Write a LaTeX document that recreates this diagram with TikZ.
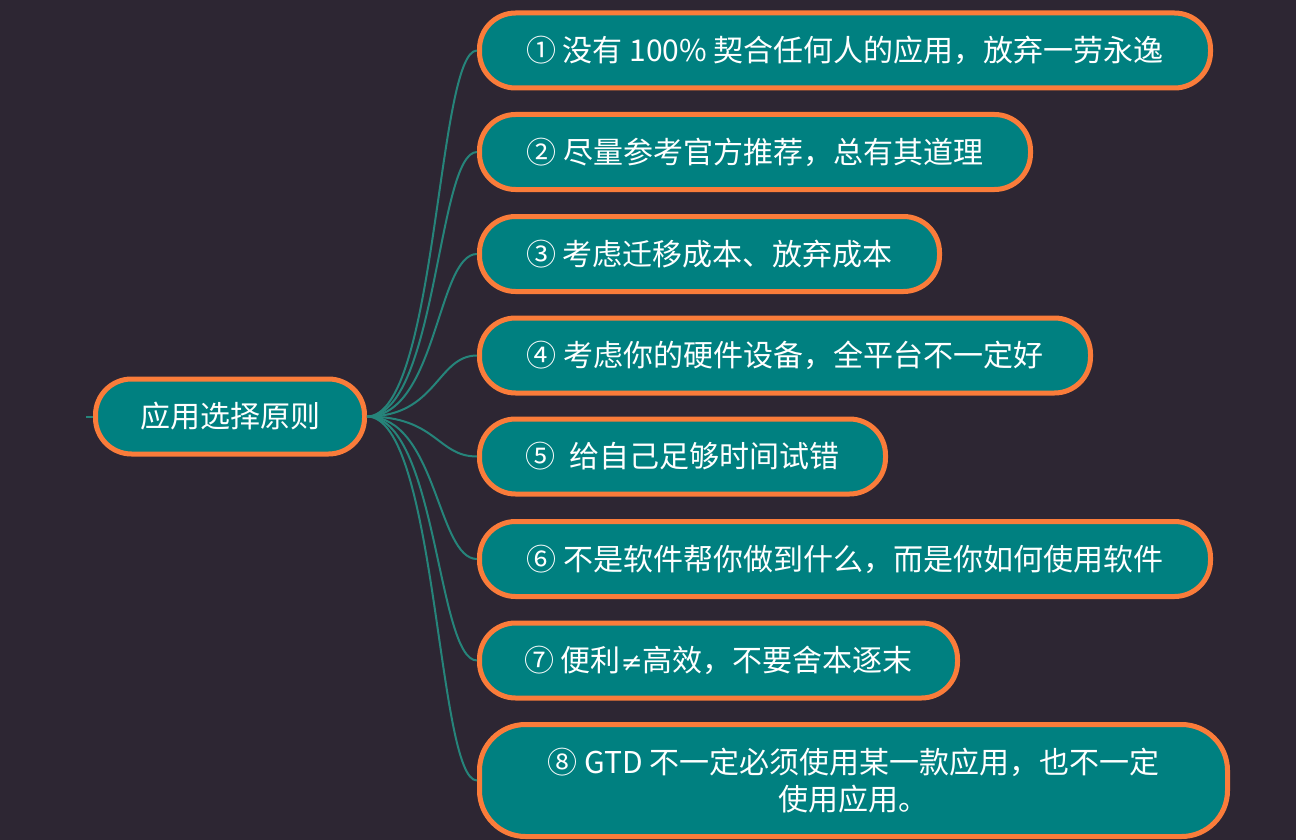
\documentclass[tikz,border=0pt]{standalone}
\usepackage{fontspec}
\newfontfamily\cjk{Noto Sans CJK SC}
\newfontfamily\lat{DejaVu Sans}
\definecolor{bgc}{RGB}{45,38,51}
\definecolor{tealF}{RGB}{0,128,128}
\definecolor{orangeB}{RGB}{250,124,58}
\definecolor{linkc}{RGB}{38,132,122}
\tikzset{
  mbox/.style={draw=orangeB, line width=5pt, fill=tealF, rounded corners=36pt,
    text=white, minimum height=75pt, inner sep=0pt, align=center,
    font=\cjk\fontsize{30}{37}\selectfont},
  link/.style={draw=linkc, line width=2pt},
}
\begin{document}
\begin{tikzpicture}[x=1pt,y=-1pt]
\fill[bgc] (0,0) rectangle (1296,840);
\useasboundingbox (0,0) rectangle (1296,840);
\node[mbox, minimum width=269pt] (root) at (230,416.5) {应用选择原则};
\node[mbox, minimum width=731pt] (b1) at (845,50.5) {① 没有 100\% 契合任何人的应用，放弃一劳永逸};
\node[mbox, minimum width=551pt] (b2) at (755,152) {② 尽量参考官方推荐，总有其道理};
\node[mbox, minimum width=460pt] (b3) at (709.5,254) {③ 考虑迁移成本、放弃成本};
\node[mbox, minimum width=611pt] (b4) at (785,355.5) {④ 考虑你的硬件设备，全平台不一定好};
\node[mbox, minimum width=406pt] (b5) at (682.5,456.5) {⑤\ \ 给自己足够时间试错};
\node[mbox, minimum width=731pt] (b6) at (845,559) {⑥ 不是软件帮你做到什么，而是你如何使用软件};
\node[mbox, minimum width=478pt] (b7) at (718.5,660.5) {⑦ 便利{\lat\fontsize{26}{37}\selectfont ≠}高效，不要舍本逐末};
\node[mbox, minimum width=748pt, minimum height=112pt, rounded corners=46pt] (b8) at (853.5,780.5) {⑧ GTD 不一定必须使用某一款应用，也不一定\\使用应用。};
\coordinate (stub) at (86,416.5);
\draw[link] (stub) -- (root.west);
\foreach \b in {b1,b2,b3,b4,b5,b6,b7,b8}{
  \draw[link] (root.east) .. controls +(70,0) and +(-40,0) .. (\b.west);
}
\end{tikzpicture}
\end{document}
